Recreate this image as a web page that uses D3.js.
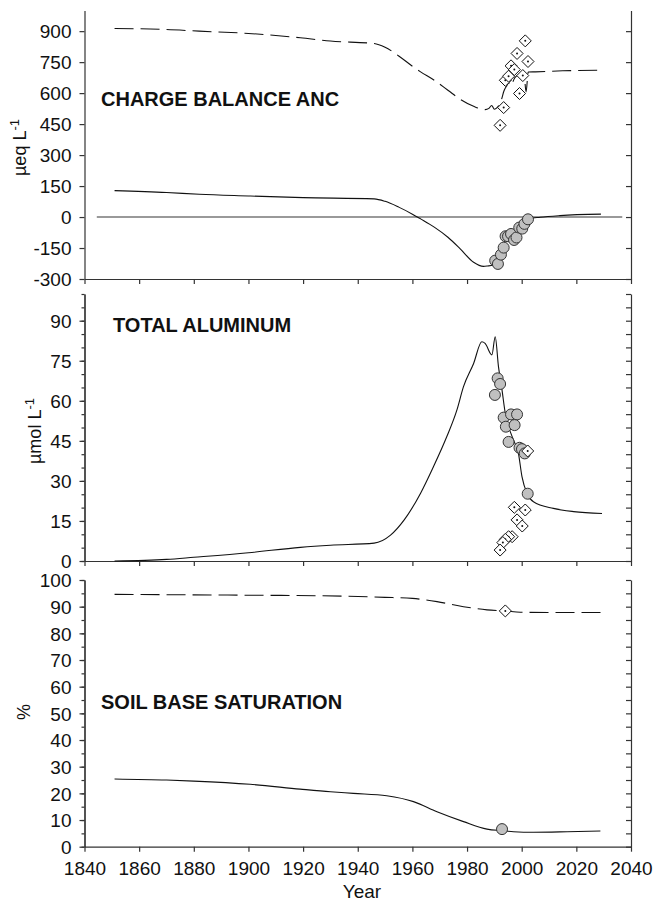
<!DOCTYPE html>
<html>
<head>
<meta charset="utf-8">
<script src="https://cdn.jsdelivr.net/npm/d3@7"></script>
<style>
  body { margin: 0; background: #fff; }
  svg { display: block; font-family: "Liberation Sans", Arial, sans-serif; }
</style>
</head>
<body>
<div id="chart"></div>
<script>
// year / value pairs

// charge balance ANC (ueq/L)
const ancDashed = [
  [1851, 913], [1870, 908], [1882, 900], [1900, 889], [1919, 868], [1930, 852],
  [1946, 840], [1950, 822], [1955, 780], [1960, 730], [1963, 703], [1968, 662],
  [1973, 614], [1977.5, 570], [1982.4, 536], [1986.6, 520], [1988, 526],
  [1989, 540], [1990, 522], [1991, 530], [1992.5, 565], [1993.5, 610],
  [1994.5, 635], [1995.3, 650], [1995.9, 636], [1997.5, 675], [1999.5, 692],
  [2000.8, 698], [2001.6, 606], [2002.4, 702], [2005, 703], [2015, 708], [2029, 711]
];
const ancSolid = [
  [1851, 128], [1870, 119], [1882, 110], [1900, 102], [1920, 94], [1946, 88],
  [1950, 76], [1955, 48], [1960, 14], [1963, -9], [1968, -49], [1973, -98],
  [1977.5, -154], [1982.4, -219], [1986, -239], [1987.5, -237], [1989.5, -232],
  [1991, -214], [1992.5, -175], [1994, -108], [1995.5, -90], [1998, -74],
  [1999.5, -55], [2001, -35], [2002.5, -9], [2006.8, -1], [2014, 7], [2029, 14]
];
const ancCircles = [
  [1990.3, -211], [1991.3, -227], [1992.4, -182], [1993.4, -148], [1994.1, -93],
  [1995.0, -93], [1996.1, -82], [1997.2, -111], [1998.1, -99], [1999.1, -51],
  [2000.2, -56], [2001.0, -33], [2002.3, -11]
];
const ancDiamonds = [
  [1992.1, 444], [1993.4, 530], [1994.0, 662], [1995.2, 682], [1996.1, 732],
  [1997.3, 714], [1998.3, 792], [1999.2, 598], [2000.4, 685], [2001.3, 853],
  [2002.3, 753]
];
const ancZeroLine = [[1844.5, 0], [2036.8, 0]];

// total aluminum (umol/L)
const alSolid = [
  [1851, 0], [1870, 0.6], [1880, 1.4], [1900, 3.1], [1919, 5.1], [1930, 5.9],
  [1946, 6.7], [1952, 9.7], [1957, 15.4], [1963, 25.4], [1967.7, 35.3],
  [1972.6, 46.6], [1976.3, 56.6], [1978.7, 65.3], [1982.4, 74], [1985.4, 82.1],
  [1986.6, 81.5], [1989.1, 77.2], [1990.3, 84], [1991.5, 72.8], [1992.8, 64],
  [1994, 55.3], [1995.2, 50.3], [1997, 45.3], [1998.8, 40.3], [2000.1, 31.6],
  [2001.9, 25.4], [2004.3, 22.2], [2011.6, 19.7], [2019, 18.5], [2029.4, 17.8]
];
const alCircles = [
  [1991.2, 68.4], [1992.1, 66.3], [1990.2, 62.2], [1993.4, 53.7], [1996.1, 54.9],
  [1998.3, 54.9], [1994.2, 50.3], [1997.4, 50.9], [1995.2, 44.6], [1999.2, 42.4],
  [2000.1, 41.9], [2001.1, 40.3], [2002.2, 25.2]
];
const alDiamonds = [
  [2002.2, 41.2], [1997.3, 20.1], [2001.3, 19.1], [1998.3, 15.4], [2000.2, 13.1],
  [1996.5, 9.1], [1995.2, 9.1], [1994.0, 8.1], [1993.1, 6.9], [1992.1, 4.1]
];

// soil base saturation (%)
const bsDashed = [
  [1851, 94.6], [1900, 94.3], [1926, 94.1], [1950, 93.5], [1960, 93.1],
  [1969, 91.9], [1978.7, 90.0], [1987.3, 88.8], [1994, 88.4], [1999.5, 87.9],
  [2011.7, 87.8], [2029, 87.8]
];
const bsSolid = [
  [1851, 25.4], [1870, 25.0], [1880, 24.6], [1900.6, 23.4], [1918.9, 21.6],
  [1930, 20.6], [1938.4, 20.0], [1950.6, 19.1], [1960.4, 16.9], [1969, 13.1],
  [1978.7, 9.4], [1987.3, 6.6], [1993, 6.0], [1997, 5.6], [2004.3, 5.4],
  [2016.6, 5.6], [2028.8, 5.9]
];
const bsCircles = [[1992.8, 6.6]];
const bsDiamonds = [[1994.0, 88.4]];

// tick values
const yearTicks = d3.range(1840, 2041, 20);
const ancTicks = d3.range(-300, 901, 150);
const alTicks = d3.range(0, 91, 15);
const alMinor = d3.range(0, 101, 5);
const bsTicks = d3.range(0, 101, 10);
const bsMinor = d3.range(0, 101, 5);

const W = 653, H = 902;
const svg = d3.select('#chart').append('svg').attr('width', W).attr('height', H);

const x = d3.scaleLinear().domain([1840, 2040]).range([84.5, 631]);

const panels = [
  { title: 'CHARGE BALANCE ANC', titleX: 101, titleY: 106,
    y: d3.scaleLinear().domain([-300, 1000]).range([279, 10.5]),
    ticks: ancTicks, minor: null, rightTicks: ancTicks,
    label: ['\u00b5eq L', '-1'], labelX: 26, labelY: 176, labelAnchor: 'start',
    dashed: ancDashed, solid: ancSolid, circles: ancCircles, diamonds: ancDiamonds, zero: ancZeroLine },
  { title: 'TOTAL ALUMINUM', titleX: 113, titleY: 332,
    y: d3.scaleLinear().domain([0, 100]).range([561, 294]),
    ticks: alTicks, minor: alMinor, rightTicks: alMinor,
    label: ['\u00b5mol L', '-1'], labelX: 41, labelY: 464, labelAnchor: 'start',
    dashed: null, solid: alSolid, circles: alCircles, diamonds: alDiamonds },
  { title: 'SOIL BASE SATURATION', titleX: 101, titleY: 709,
    y: d3.scaleLinear().domain([0, 100]).range([846.7, 580]),
    ticks: bsTicks, minor: bsMinor, rightTicks: bsMinor,
    label: ['%'], labelX: 30, labelY: 712, labelAnchor: 'middle',
    dashed: bsDashed, solid: bsSolid, circles: bsCircles, diamonds: bsDiamonds, xLabels: true }
];

const axisColor = '#333';
const plainNum = d => String(d);

function styleAxis(g) {
  g.select('.domain').attr('stroke', axisColor).attr('stroke-width', 1.2);
  g.selectAll('.tick line').attr('stroke', axisColor).attr('stroke-width', 1.2);
  g.selectAll('.tick text').attr('fill', '#111').style('font-size', '19px')
    .style('font-family', '"Liberation Sans", Arial, sans-serif');
}

panels.forEach(p => {
  const y = p.y;
  const [y0, y1] = y.range();
  const g = svg.append('g');

  if (p.zero) {
    g.append('path')
      .attr('d', d3.line().x(d => x(d[0])).y(d => y(d[1]))(p.zero))
      .attr('stroke', '#777').attr('stroke-width', 1.6).attr('fill', 'none');
  }

  // minor ticks on left
  if (p.minor) {
    g.append('g').attr('transform', `translate(${x(1840)},0)`)
      .call(d3.axisLeft(y).tickValues(p.minor).tickSize(3).tickSizeOuter(0).tickFormat(''))
      .call(styleAxis);
  }
  // left axis
  g.append('g').attr('transform', `translate(${x(1840)},0)`)
    .call(d3.axisLeft(y).tickValues(p.ticks).tickSize(5).tickPadding(8).tickSizeOuter(0).tickFormat(plainNum))
    .call(styleAxis)
    .call(a => a.selectAll('.tick text').attr('dy', '0.36em'));

  // right axis, inward ticks
  g.append('g').attr('transform', `translate(${x(2040)},0)`)
    .call(d3.axisLeft(y).tickValues(p.rightTicks).tickSize(5).tickSizeOuter(0).tickFormat(''))
    .call(styleAxis);

  // bottom axis
  const xa = d3.axisBottom(x).tickValues(yearTicks).tickSize(5).tickPadding(10).tickSizeOuter(0)
    .tickFormat(p.xLabels ? plainNum : '');
  g.append('g').attr('transform', `translate(0,${y0})`).call(xa).call(styleAxis);

  const line = d3.line().x(d => x(d[0])).y(d => y(d[1])).curve(d3.curveMonotoneX);

  if (p.dashed) {
    g.append('path').attr('d', line(p.dashed))
      .attr('fill', 'none').attr('stroke', '#111').attr('stroke-width', 1.1)
      .attr('stroke-dasharray', '19,7');
  }
  g.append('path').attr('d', line(p.solid))
    .attr('fill', 'none').attr('stroke', '#111').attr('stroke-width', 1.1);

  // observed data: circles
  g.selectAll('circle.obs').data(p.circles).enter().append('circle')
    .attr('class', 'obs')
    .attr('cx', d => x(d[0])).attr('cy', d => y(d[1])).attr('r', 5.5)
    .attr('fill', '#c0c0c0').attr('stroke', '#333').attr('stroke-width', 1);

  // observed data: dotted diamonds
  const dg = g.selectAll('g.dia').data(p.diamonds).enter().append('g')
    .attr('class', 'dia')
    .attr('transform', d => `translate(${x(d[0])},${y(d[1])})`);
  dg.append('path').attr('d', 'M0,-6L6,0L0,6L-6,0Z')
    .attr('fill', '#fff').attr('stroke', '#111').attr('stroke-width', 1);
  dg.append('circle').attr('r', 1).attr('fill', '#111');

  // panel title
  svg.append('text').attr('x', p.titleX).attr('y', p.titleY)
    .style('font-size', '20px').style('font-weight', 'bold').attr('fill', '#111')
    .text(p.title);

  // y label
  const lab = svg.append('text')
    .attr('transform', `translate(${p.labelX},${p.labelY}) rotate(-90)`)
    .attr('text-anchor', p.labelAnchor)
    .style('font-size', '18px').attr('fill', '#111');
  lab.append('tspan').text(p.label[0]);
  if (p.label[1]) {
    lab.append('tspan').attr('dy', -7).style('font-size', '13px').text(p.label[1]);
  }
});

svg.append('text').attr('x', 362).attr('y', 898).attr('text-anchor', 'middle')
  .style('font-size', '19px').attr('fill', '#111').text('Year');
</script>
</body>
</html>
